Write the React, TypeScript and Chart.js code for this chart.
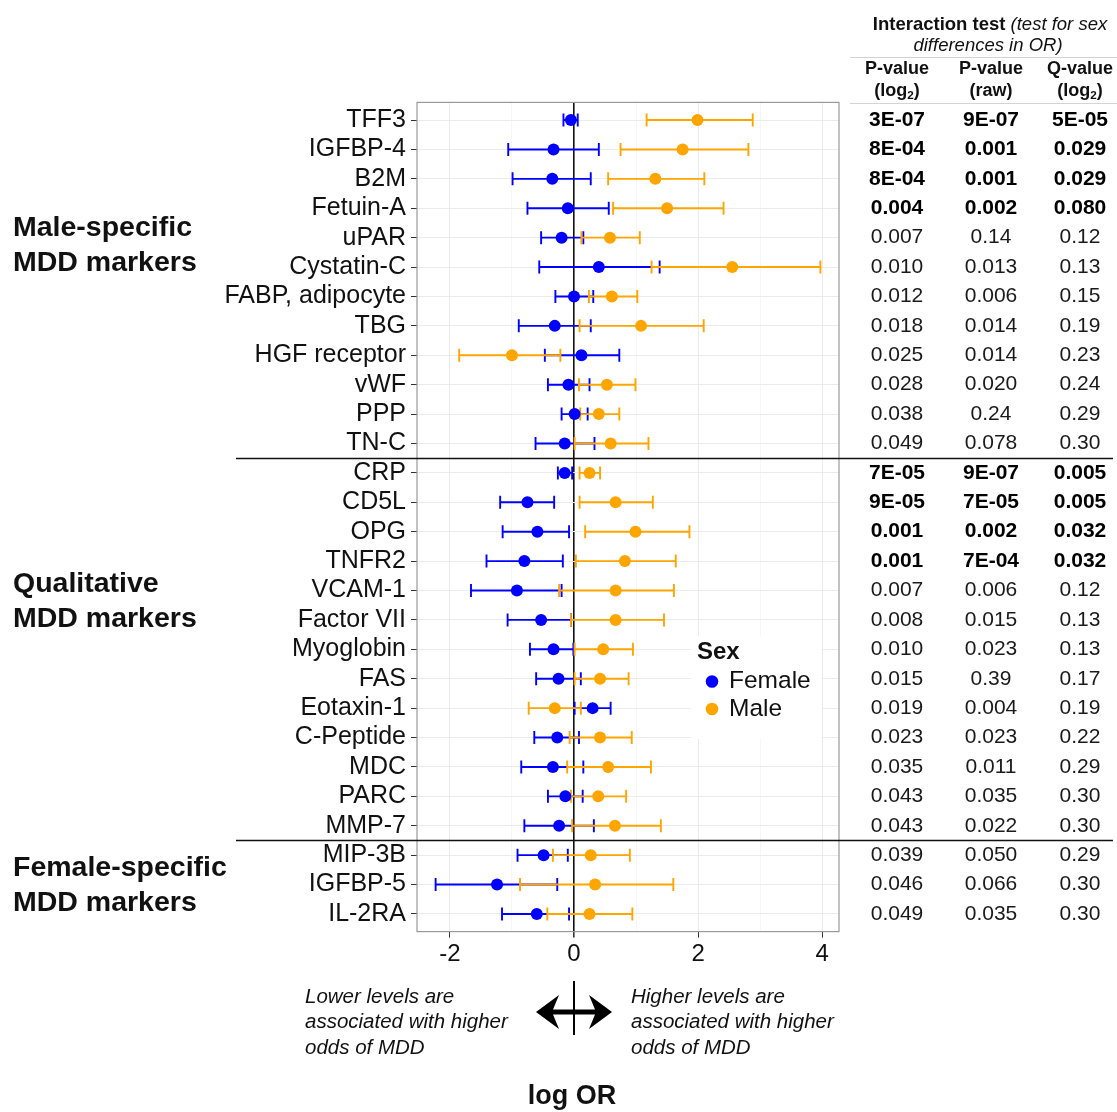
import React, { useEffect, useRef } from 'react';
import { Chart, registerables } from 'chart.js';

Chart.register(...registerables);

// ---- Markers (top to bottom) ----
const markers = [
  'TFF3', 'IGFBP-4', 'B2M', 'Fetuin-A', 'uPAR', 'Cystatin-C', 'FABP, adipocyte', 'TBG',
  'HGF receptor', 'vWF', 'PPP', 'TN-C',
  'CRP', 'CD5L', 'OPG', 'TNFR2', 'VCAM-1', 'Factor VII', 'Myoglobin', 'FAS', 'Eotaxin-1',
  'C-Peptide', 'MDC', 'PARC', 'MMP-7',
  'MIP-3B', 'IGFBP-5', 'IL-2RA',
];

// ---- log OR estimates with confidence limits ----
const femaleOR = [
  -0.05, -0.33, -0.35, -0.10, -0.20, 0.40, 0.00, -0.31, 0.12, -0.09, 0.01, -0.15,
  -0.15, -0.75, -0.59, -0.80, -0.92, -0.53, -0.33, -0.25, 0.30, -0.27, -0.34, -0.14, -0.24,
  -0.49, -1.24, -0.60,
];
const femaleLow = [
  -0.17, -1.06, -0.99, -0.75, -0.53, -0.56, -0.30, -0.89, -0.47, -0.42, -0.20, -0.62,
  -0.26, -1.19, -1.15, -1.41, -1.66, -1.07, -0.71, -0.61, 0.01, -0.64, -0.85, -0.42, -0.80,
  -0.91, -2.23, -1.16,
];
const femaleHigh = [
  0.06, 0.40, 0.27, 0.56, 0.15, 1.38, 0.31, 0.27, 0.73, 0.25, 0.22, 0.33,
  -0.03, -0.32, -0.08, -0.18, -0.20, -0.05, -0.01, 0.11, 0.59, 0.08, 0.15, 0.14, 0.32,
  -0.10, -0.27, -0.08,
];
const maleOR = [
  1.99, 1.75, 1.31, 1.50, 0.58, 2.55, 0.61, 1.08, -1.00, 0.53, 0.40, 0.59,
  0.25, 0.67, 0.99, 0.82, 0.67, 0.67, 0.47, 0.42, -0.31, 0.42, 0.55, 0.39, 0.66,
  0.27, 0.34, 0.25,
];
const maleLow = [
  1.17, 0.75, 0.55, 0.63, 0.12, 1.25, 0.24, 0.09, -1.85, 0.08, 0.10, 0.01,
  0.09, 0.09, 0.18, 0.03, -0.24, -0.05, 0.01, 0.01, -0.73, -0.07, -0.11, -0.05, -0.03,
  -0.34, -0.87, -0.43,
];
const maleHigh = [
  2.88, 2.81, 2.10, 2.41, 1.06, 3.97, 1.02, 2.09, -0.22, 0.99, 0.73, 1.20,
  0.42, 1.27, 1.86, 1.64, 1.61, 1.45, 0.95, 0.88, 0.11, 0.93, 1.24, 0.84, 1.40,
  0.90, 1.60, 0.94,
];

// ---- Interaction test table ----
const pLog2 = [
  '3E-07', '8E-04', '8E-04', '0.004', '0.007', '0.010', '0.012', '0.018', '0.025', '0.028', '0.038', '0.049',
  '7E-05', '9E-05', '0.001', '0.001', '0.007', '0.008', '0.010', '0.015', '0.019', '0.023', '0.035', '0.043', '0.043',
  '0.039', '0.046', '0.049',
];
const pRaw = [
  '9E-07', '0.001', '0.001', '0.002', '0.14', '0.013', '0.006', '0.014', '0.014', '0.020', '0.24', '0.078',
  '9E-07', '7E-05', '0.002', '7E-04', '0.006', '0.015', '0.023', '0.39', '0.004', '0.023', '0.011', '0.035', '0.022',
  '0.050', '0.066', '0.035',
];
const qLog2 = [
  '5E-05', '0.029', '0.029', '0.080', '0.12', '0.13', '0.15', '0.19', '0.23', '0.24', '0.29', '0.30',
  '0.005', '0.005', '0.032', '0.032', '0.12', '0.13', '0.13', '0.17', '0.19', '0.22', '0.29', '0.30', '0.30',
  '0.29', '0.30', '0.30',
];
const significant = [
  true, true, true, true, false, false, false, false, false, false, false, false,
  true, true, true, true, false, false, false, false, false, false, false, false, false,
  false, false, false,
];

// ---- Groups ----
const groupNames = [
  ['Male-specific', 'MDD markers'],
  ['Qualitative', 'MDD markers'],
  ['Female-specific', 'MDD markers'],
];
const groupStarts = [0, 12, 25];
const groupLabelRow = [4.27, 16.39, 26.05];

// ---- Axis ----
const majorTicks = [-2, 0, 2, 4];
const minorTicks = [-1, 1, 3];
const X_MIN = -2.53;
const X_MAX = 4.27;

const legendTitle = 'Sex';
const sexes = ['Female', 'Male'];
const BLUE = '#0000ff';
const ORANGE = '#ffa500';

// ---- Layout ----
const W = 1117;
const H = 1112;
const PLOT_LEFT = 417;
const PLOT_RIGHT = 839;
const PLOT_TOP = 102.4;
const PLOT_BOTTOM = 931.6;
const FONT = '"Liberation Sans", Arial, Helvetica, sans-serif';
const TEXT = '#111111';
const COL_X = [897, 991, 1080];

function errorBarSets(low: number[], high: number[], color: string, order: number) {
  return low.map((lo, i) => ({
    type: 'line' as const,
    data: [{ x: lo, y: i }, { x: high[i], y: i }],
    borderColor: color,
    borderWidth: 1.9,
    pointStyle: 'line' as const,
    pointRadius: 6.5,
    pointRotation: 90,
    pointBorderColor: color,
    pointBorderWidth: 1.9,
    pointBackgroundColor: color,
    fill: false,
    tension: 0,
    order,
  }));
}

function pointSet(est: number[], color: string, order: number) {
  return {
    type: 'scatter' as const,
    data: est.map((v, i) => ({ x: v, y: i })),
    backgroundColor: color,
    borderColor: color,
    borderWidth: 0,
    pointRadius: 6,
    order,
  };
}

function drawLog2(ctx: CanvasRenderingContext2D, cx: number, y: number, size: number) {
  const f = `bold ${size}px ${FONT}`;
  const fs = `bold ${size * 0.65}px ${FONT}`;
  ctx.font = f;
  const a = ctx.measureText('(log').width;
  const c = ctx.measureText(')').width;
  ctx.font = fs;
  const b = ctx.measureText('2').width;
  let x = cx - (a + b + c) / 2;
  ctx.textAlign = 'left';
  ctx.font = f;
  ctx.fillText('(log', x, y);
  x += a;
  ctx.font = fs;
  ctx.fillText('2', x, y + size * 0.28);
  x += b;
  ctx.font = f;
  ctx.fillText(')', x, y);
}

const decorations = {
  id: 'decorations',
  afterDraw(chart: any) {
    const ctx: CanvasRenderingContext2D = chart.ctx;
    const xs = chart.scales.x;
    const ys = chart.scales.y;
    const area = chart.chartArea;
    ctx.save();

    // panel border
    ctx.strokeStyle = '#999999';
    ctx.lineWidth = 1.2;
    ctx.strokeRect(area.left, area.top, area.right - area.left, area.bottom - area.top);

    // legend
    ctx.fillStyle = '#ffffff';
    ctx.fillRect(691, 636, 131, 103);
    ctx.fillStyle = TEXT;
    ctx.textBaseline = 'middle';
    ctx.textAlign = 'left';
    ctx.font = `bold 24px ${FONT}`;
    ctx.fillText(legendTitle, 697, 652);
    ctx.font = `24.5px ${FONT}`;
    [BLUE, ORANGE].forEach((col, k) => {
      const yy = 681.5 + k * 27.5;
      ctx.fillStyle = col;
      ctx.beginPath();
      ctx.arc(712, yy, 6.3, 0, Math.PI * 2);
      ctx.fill();
      ctx.fillStyle = TEXT;
      ctx.fillText(sexes[k], 729, yy);
    });

    // group separators
    ctx.strokeStyle = '#111111';
    ctx.lineWidth = 1.5;
    groupStarts.slice(1).forEach((s) => {
      const yy = Math.round(ys.getPixelForValue(s - 0.5)) + 0.5;
      ctx.beginPath();
      ctx.moveTo(236, yy);
      ctx.lineTo(1113, yy);
      ctx.stroke();
    });

    // group labels
    ctx.fillStyle = TEXT;
    ctx.textAlign = 'left';
    ctx.font = `bold 28.5px ${FONT}`;
    groupNames.forEach((lines, g) => {
      const cy = ys.getPixelForValue(groupLabelRow[g]);
      ctx.fillText(lines[0], 13, cy - 17.5);
      ctx.fillText(lines[1], 13, cy + 17.5);
    });

    // table header
    ctx.textBaseline = 'middle';
    ctx.font = `bold 18.5px ${FONT}`;
    const h1 = 'Interaction test';
    const h2 = ' (test for sex';
    const w1 = ctx.measureText(h1).width;
    ctx.font = `italic 18.5px ${FONT}`;
    const w2 = ctx.measureText(h2).width;
    const hx = 990 - (w1 + w2) / 2;
    ctx.textAlign = 'left';
    ctx.font = `bold 18.5px ${FONT}`;
    ctx.fillText(h1, hx, 25);
    ctx.font = `italic 18.5px ${FONT}`;
    ctx.fillText(h2, hx + w1, 25);
    ctx.textAlign = 'center';
    ctx.fillText('differences in OR)', 988, 46);

    ctx.strokeStyle = '#d4d4d4';
    ctx.lineWidth = 1;
    [57.5, 103.5].forEach((yy) => {
      ctx.beginPath();
      ctx.moveTo(850, yy);
      ctx.lineTo(1117, yy);
      ctx.stroke();
    });

    ctx.fillStyle = TEXT;
    ctx.font = `bold 18px ${FONT}`;
    ctx.textAlign = 'center';
    ['P-value', 'P-value', 'Q-value'].forEach((t, k) => ctx.fillText(t, COL_X[k], 69));
    drawLog2(ctx, COL_X[0], 91, 18);
    ctx.font = `bold 18px ${FONT}`;
    ctx.textAlign = 'center';
    ctx.fillText('(raw)', COL_X[1], 91);
    drawLog2(ctx, COL_X[2], 91, 18);

    // table body
    ctx.textAlign = 'center';
    markers.forEach((_, i) => {
      const yy = ys.getPixelForValue(i);
      ctx.font = significant[i] ? `bold 21px ${FONT}` : `21px ${FONT}`;
      ctx.fillStyle = significant[i] ? '#000000' : '#1a1a1a';
      ctx.fillText(pLog2[i], COL_X[0], yy);
      ctx.fillText(pRaw[i], COL_X[1], yy);
      ctx.fillText(qLog2[i], COL_X[2], yy);
    });

    // direction annotation
    const cx = xs.getPixelForValue(0);
    const cy = 1012;
    ctx.fillStyle = '#000000';
    ctx.beginPath();
    ctx.moveTo(cx - 38, cy);
    ctx.lineTo(cx - 15, cy - 17);
    ctx.lineTo(cx - 21, cy - 2.5);
    ctx.lineTo(cx + 21, cy - 2.5);
    ctx.lineTo(cx + 15, cy - 17);
    ctx.lineTo(cx + 38, cy);
    ctx.lineTo(cx + 15, cy + 17);
    ctx.lineTo(cx + 21, cy + 2.5);
    ctx.lineTo(cx - 21, cy + 2.5);
    ctx.lineTo(cx - 15, cy + 17);
    ctx.closePath();
    ctx.fill();
    ctx.strokeStyle = '#000000';
    ctx.lineWidth = 2;
    ctx.beginPath();
    ctx.moveTo(cx, 981);
    ctx.lineTo(cx, 1035);
    ctx.stroke();

    ctx.fillStyle = TEXT;
    ctx.textAlign = 'left';
    ctx.font = `italic 20.5px ${FONT}`;
    const leftNote = ['Lower levels are', 'associated with higher', 'odds of MDD'];
    const rightNote = ['Higher levels are', 'associated with higher', 'odds of MDD'];
    leftNote.forEach((t, k) => ctx.fillText(t, 305, 997 + k * 25.5));
    rightNote.forEach((t, k) => ctx.fillText(t, 631, 997 + k * 25.5));

    ctx.textAlign = 'center';
    ctx.font = `bold 27px ${FONT}`;
    ctx.fillText('log OR', cx - 2, 1097);

    ctx.restore();
  },
};

export default function App() {
  const ref = useRef<HTMLCanvasElement | null>(null);

  useEffect(() => {
    if (!ref.current) return;
    const allX = [...majorTicks, ...minorTicks].sort((a, b) => a - b);
    const chart = new Chart(ref.current, {
      type: 'scatter',
      data: {
        datasets: [
          pointSet(maleOR, ORANGE, 0),
          pointSet(femaleOR, BLUE, 1),
          ...errorBarSets(maleLow, maleHigh, ORANGE, 2),
          ...errorBarSets(femaleLow, femaleHigh, BLUE, 3),
        ] as any,
      },
      options: {
        responsive: false,
        maintainAspectRatio: false,
        devicePixelRatio: 1,
        animation: false,
        events: [],
        layout: { padding: { left: 0, top: PLOT_TOP, right: W - PLOT_RIGHT, bottom: 0 } },
        plugins: { legend: { display: false }, tooltip: { enabled: false } },
        scales: {
          x: {
            type: 'linear',
            min: X_MIN,
            max: X_MAX,
            afterBuildTicks: (s: any) => {
              s.ticks = allX.map((v) => ({ value: v }));
            },
            afterFit: (s: any) => {
              s.height = H - PLOT_BOTTOM;
            },
            ticks: {
              autoSkip: false,
              maxRotation: 0,
              padding: 2,
              color: TEXT,
              font: { family: FONT, size: 24 },
              callback: (v: any) => (majorTicks.includes(Number(v)) ? String(v) : ''),
            },
            grid: {
              tickLength: 6,
              color: (c: any) =>
                c.tick && c.tick.value === 0
                  ? '#111111'
                  : minorTicks.includes(c.tick?.value)
                  ? '#f6f6f6'
                  : '#ebebeb',
              lineWidth: (c: any) => (c.tick && c.tick.value === 0 ? 1.6 : 1),
              tickColor: (c: any) =>
                minorTicks.includes(c.tick?.value) ? 'rgba(0,0,0,0)' : '#333333',
            },
            border: { display: false },
          },
          y: {
            type: 'linear',
            reverse: true,
            min: -0.6,
            max: markers.length - 0.4,
            afterBuildTicks: (s: any) => {
              s.ticks = markers.map((_, i) => ({ value: i }));
            },
            afterFit: (s: any) => {
              s.width = PLOT_LEFT;
            },
            ticks: {
              autoSkip: false,
              padding: 5,
              color: TEXT,
              font: { family: FONT, size: 25 },
              callback: (v: any) => markers[Number(v)] ?? '',
            },
            grid: { tickLength: 6, color: '#ebebeb', tickColor: '#333333' },
            border: { display: false },
          },
        },
      },
      plugins: [decorations],
    });
    return () => chart.destroy();
  }, []);

  return (
    <div style={{ position: 'absolute', left: 0, top: 0, width: W, height: H, background: '#ffffff' }}>
      <canvas ref={ref} width={W} height={H} style={{ display: 'block', width: W, height: H }} />
    </div>
  );
}
